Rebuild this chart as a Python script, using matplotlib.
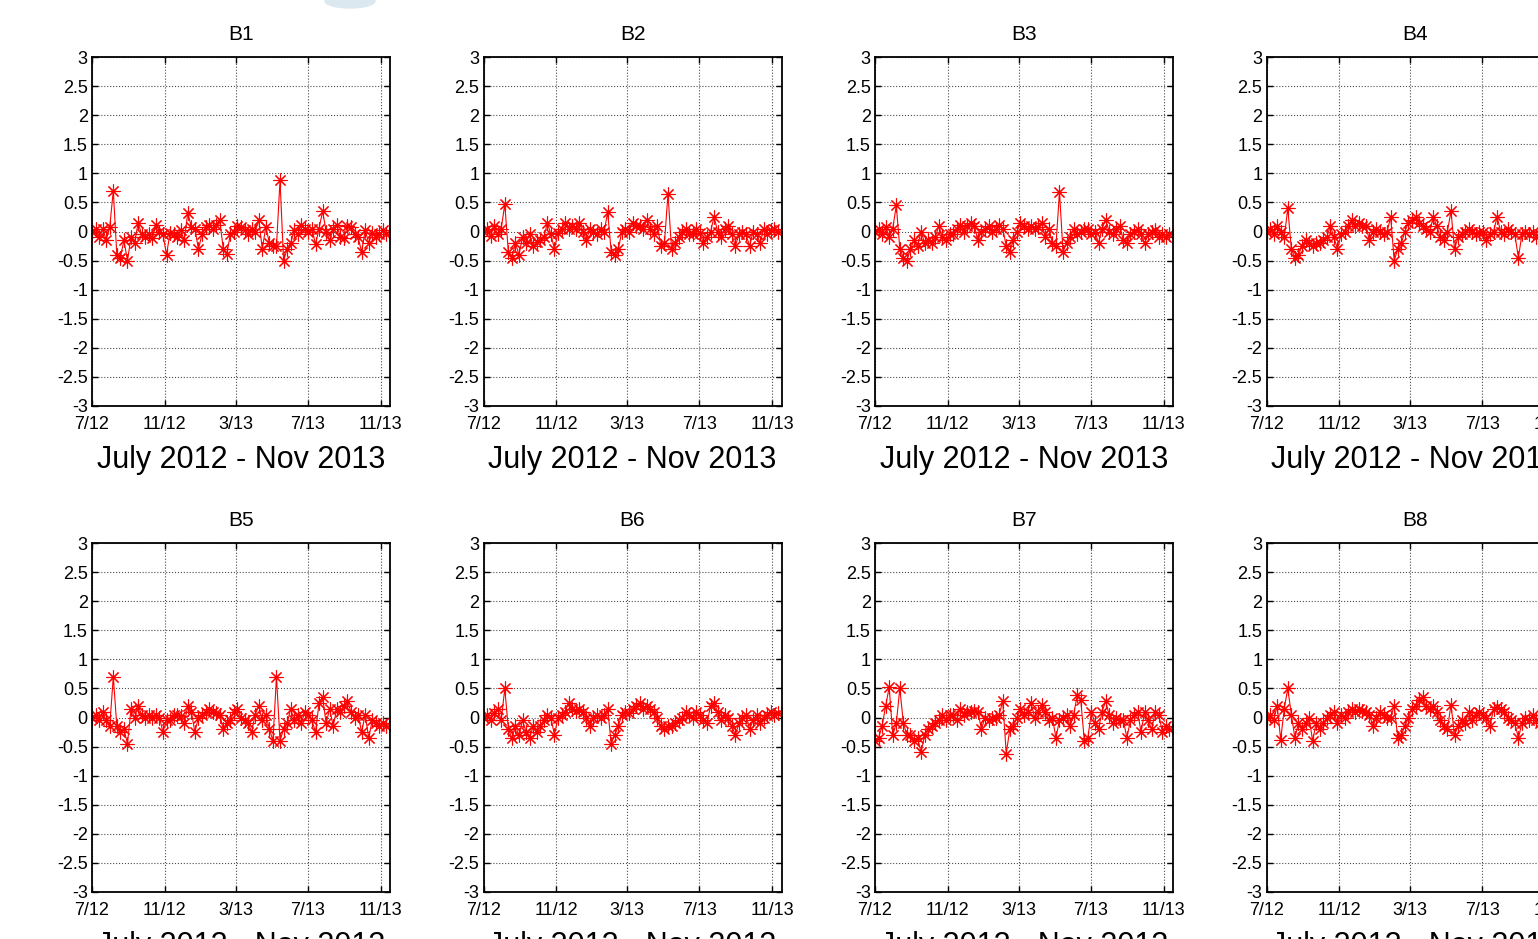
import numpy as np
import pandas as pd
import matplotlib
matplotlib.use("Agg")
import matplotlib.pyplot as plt
from matplotlib.patches import Ellipse

plt.rcParams['font.family'] = ['Liberation Sans', 'DejaVu Sans']

# ---------------- data ----------------
dates = pd.date_range('2012-07-01', periods=84, freq='6D')

titles = ['B1', 'B2', 'B3', 'B4', 'B5', 'B6', 'B7', 'B8']

b1 = [0.0, 0.05, -0.1, 0.05, -0.15, 0.08, 0.7, -0.4, -0.45, -0.15, -0.5, -0.1,
      -0.2, 0.15, -0.05, -0.1, -0.05, -0.12, 0.12, 0.0, -0.05, -0.4, -0.02, -0.05,
      -0.1, 0.02, -0.15, 0.32, 0.08, 0.05, -0.3, -0.05, 0.08, 0.12, 0.05, 0.12,
      0.2, -0.3, -0.38, -0.05, 0.0, 0.1, 0.08, 0.02, -0.05, 0.05, 0.0, 0.2,
      -0.3, 0.08, -0.2, -0.25, -0.25, 0.88, -0.5, -0.3, -0.2, 0.02, -0.05, 0.12,
      0.05, 0.0, 0.05, -0.22, 0.05, 0.35, 0.0, -0.15, 0.05, 0.12, -0.1, -0.12,
      0.1, 0.08, -0.05, -0.1, -0.35, 0.02, -0.2, -0.02, -0.1, -0.05, 0.02, -0.05]

b2 = [0.0, 0.05, -0.08, 0.1, -0.05, 0.05, 0.47, -0.35, -0.45, -0.2, -0.4, -0.1,
      -0.2, -0.05, -0.25, -0.18, -0.15, -0.1, 0.15, -0.05, -0.3, -0.02, 0.05, 0.15,
      0.05, 0.1, 0.05, 0.15, 0.0, -0.15, 0.05, 0.0, -0.05, 0.05, 0.0, 0.33,
      -0.35, -0.4, -0.3, 0.0, 0.05, 0.0, 0.15, 0.1, 0.1, 0.05, 0.2, 0.05,
      -0.05, 0.1, -0.25, -0.2, 0.65, -0.3, -0.2, -0.1, 0.0, 0.05, -0.05, -0.05,
      0.05, -0.02, -0.2, -0.1, 0.0, 0.25, 0.0, -0.1, 0.05, 0.1, -0.05, -0.25,
      -0.05, 0.0, -0.05, -0.25, 0.0, -0.05, -0.2, 0.05, -0.05, 0.02, 0.05, 0.0]

b3 = [0.0, 0.05, -0.05, 0.08, -0.1, 0.05, 0.45, -0.3, -0.45, -0.5, -0.3, -0.15,
      -0.25, 0.0, -0.2, -0.15, -0.2, -0.1, 0.1, -0.1, -0.15, -0.05, -0.05, 0.05,
      0.12, 0.0, 0.1, 0.15, 0.1, -0.15, 0.0, 0.05, 0.1, 0.0, 0.05, 0.12,
      0.05, -0.25, -0.35, -0.15, 0.0, 0.15, 0.1, 0.05, 0.1, 0.05, 0.08, 0.15,
      -0.1, 0.05, -0.2, -0.25, 0.68, -0.35, -0.2, -0.1, 0.05, -0.05, 0.0, 0.05,
      0.05, -0.05, 0.0, -0.2, 0.05, 0.2, 0.0, -0.05, 0.05, 0.1, -0.15, -0.2,
      -0.05, 0.0, 0.05, -0.05, -0.2, -0.05, 0.0, 0.02, -0.1, -0.05, -0.1, -0.05]

b4 = [0.0, 0.05, -0.05, 0.1, 0.0, -0.1, 0.4, -0.3, -0.45, -0.4, -0.25, -0.15,
      -0.2, -0.25, -0.2, -0.2, -0.15, -0.1, 0.1, -0.1, -0.3, -0.05, 0.0, 0.1,
      0.2, 0.1, 0.15, 0.1, 0.1, -0.15, 0.0, 0.05, 0.0, -0.05, 0.0, 0.25,
      -0.5, -0.3, -0.2, 0.0, 0.15, 0.2, 0.25, 0.15, 0.1, 0.05, 0.0, 0.25,
      0.1, -0.1, -0.15, 0.0, 0.35, -0.3, -0.1, -0.05, 0.0, 0.05, 0.0, -0.05,
      0.0, 0.0, -0.15, -0.05, 0.0, 0.25, 0.0, -0.05, 0.05, 0.0, -0.05, -0.45,
      -0.05, 0.0, -0.05, 0.0, -0.1, -0.05, 0.0, -0.1, 0.05, -0.05, 0.0, -0.05]

b5 = [0.0, 0.05, -0.05, 0.1, -0.05, -0.15, 0.7, -0.15, -0.25, -0.2, -0.45, 0.15,
      0.0, 0.2, 0.05, 0.0, 0.05, 0.0, 0.05, 0.0, -0.25, -0.05, -0.05, 0.05,
      0.05, 0.02, -0.1, 0.2, 0.1, -0.25, 0.0, 0.05, 0.1, 0.15, 0.1, 0.08,
      0.05, -0.2, -0.1, -0.05, 0.1, 0.15, 0.0, -0.05, -0.1, -0.25, 0.05, 0.2,
      -0.05, 0.05, -0.2, -0.4, 0.7, -0.4, -0.2, -0.1, 0.15, -0.05, 0.05, -0.1,
      0.1, 0.05, -0.05, -0.25, 0.25, 0.35, -0.1, 0.15, -0.15, 0.15, 0.1, 0.2,
      0.28, 0.1, 0.0, 0.05, -0.25, 0.05, -0.35, -0.05, -0.1, -0.15, -0.1, -0.15]

b6 = [0.0, 0.05, -0.05, 0.08, 0.15, -0.05, 0.5, -0.2, -0.35, -0.15, -0.3, -0.05,
      -0.25, -0.35, -0.15, -0.25, -0.15, -0.05, 0.05, 0.0, -0.3, 0.0, 0.05, 0.1,
      0.25, 0.15, 0.12, 0.15, 0.1, 0.0, -0.15, 0.0, 0.05, 0.0, 0.05, 0.15,
      -0.45, -0.3, -0.15, 0.05, 0.1, 0.08, 0.15, 0.2, 0.25, 0.15, 0.2, 0.15,
      0.1, 0.0, -0.15, -0.2, -0.15, -0.15, -0.1, -0.05, 0.0, 0.1, 0.05, 0.0,
      0.1, 0.05, -0.05, -0.1, 0.2, 0.25, 0.1, -0.05, 0.05, 0.0, -0.15, -0.3,
      -0.1, 0.0, 0.05, -0.2, -0.05, 0.05, -0.1, 0.0, 0.05, 0.1, 0.05, 0.08]

b7 = [-0.4, -0.35, -0.15, 0.2, 0.52, -0.3, -0.1, 0.5, -0.1, -0.3, -0.3, -0.4,
      -0.35, -0.6, -0.3, -0.2, -0.15, -0.1, -0.05, 0.05, -0.05, 0.05, 0.05, -0.05,
      0.15, 0.05, 0.1, 0.1, 0.12, 0.1, -0.2, 0.0, -0.05, 0.0, 0.0, 0.05,
      0.28, -0.62, -0.2, -0.15, 0.0, 0.15, 0.05, 0.1, 0.25, 0.0, 0.1, 0.22,
      0.1, -0.05, 0.0, -0.35, -0.05, 0.0, 0.05, -0.15, 0.05, 0.38, 0.3, -0.4,
      -0.35, 0.1, -0.1, -0.2, 0.1, 0.28, 0.05, -0.1, 0.0, -0.05, -0.05, -0.35,
      -0.05, 0.05, 0.1, -0.25, 0.1, -0.05, -0.2, 0.1, 0.05, -0.25, -0.15, -0.2]

b8 = [0.0, 0.05, -0.05, 0.2, -0.38, 0.15, 0.5, 0.05, -0.35, -0.1, -0.2, -0.1,
      0.0, -0.4, -0.1, -0.2, -0.1, 0.0, 0.05, 0.1, -0.1, 0.05, 0.0, 0.1,
      0.15, 0.1, 0.15, 0.12, 0.1, 0.05, -0.15, 0.0, 0.1, 0.05, 0.0, 0.0,
      0.2, -0.35, -0.3, -0.15, 0.0, 0.15, 0.2, 0.3, 0.35, 0.2, 0.15, 0.2,
      0.1, -0.05, -0.15, -0.2, 0.22, -0.3, -0.15, -0.05, -0.1, 0.1, -0.05, 0.05,
      0.1, 0.05, 0.0, -0.15, 0.15, 0.18, 0.15, 0.1, 0.0, -0.05, -0.1, -0.35,
      -0.1, 0.0, -0.05, 0.05, -0.05, -0.1, 0.0, 0.05, -0.05, 0.0, 0.05, -0.05]

series = [b1, b2, b3, b4, b5, b6, b7, b8]

xtick_dates = ['2012-07-01', '2012-11-01', '2013-03-01', '2013-07-01', '2013-11-01']
xtick_labels = ['7/12', '11/12', '3/13', '7/13', '11/13']
yticks = [-3, -2.5, -2, -1.5, -1, -0.5, 0, 0.5, 1, 1.5, 2, 2.5, 3]
xlabel_text = 'July 2012 - Nov 2013'

# ---------------- layout ----------------
W, H = 1538, 939
fig = plt.figure(figsize=(W / 100, H / 100), dpi=100)

col_left = [92, 483.5, 875, 1266.5]
row_top = [57, 543]
ax_w, ax_h = 298, 349

xmin = pd.Timestamp('2012-07-01')
xmax = pd.Timestamp('2013-11-17')

for k, (vals, title) in enumerate(zip(series, titles)):
    r, c = divmod(k, 4)
    left = col_left[c] / W
    bottom = 1 - (row_top[r] + ax_h) / H
    ax = fig.add_axes([left, bottom, ax_w / W, ax_h / H])
    ax.plot(dates, vals, color='red', lw=0.8,
            marker=(8, 2, 0), markersize=10, markeredgewidth=0.8,
            markeredgecolor='red')
    ax.set_xlim(xmin, xmax)
    ax.set_ylim(-3, 3)
    ax.set_xticks(pd.to_datetime(xtick_dates))
    ax.set_xticklabels(xtick_labels)
    ax.set_yticks(yticks)
    ax.set_yticklabels([f'{v:g}' for v in yticks])
    ax.tick_params(direction='in', top=True, right=True, length=4,
                   width=1.0, labelsize=13, colors='black')
    ax.tick_params(axis='x', pad=7)
    ax.tick_params(axis='y', pad=3)
    ax.grid(True, linestyle=':', color='0.3', lw=0.8)
    ax.set_axisbelow(True)
    for s in ax.spines.values():
        s.set_linewidth(1.3)
        s.set_color('black')
    ax.set_title(title, fontsize=15, pad=12)
    ax.set_xlabel(xlabel_text, fontsize=22, labelpad=9)

# faint logo fragment at the top edge
fig.patches.append(Ellipse((350 / W, 1 - 1 / H), 50 / W, 14 / H,
                           transform=fig.transFigure, color='#dbe8ef',
                           zorder=0))

fig.savefig('out.png', dpi=100)
